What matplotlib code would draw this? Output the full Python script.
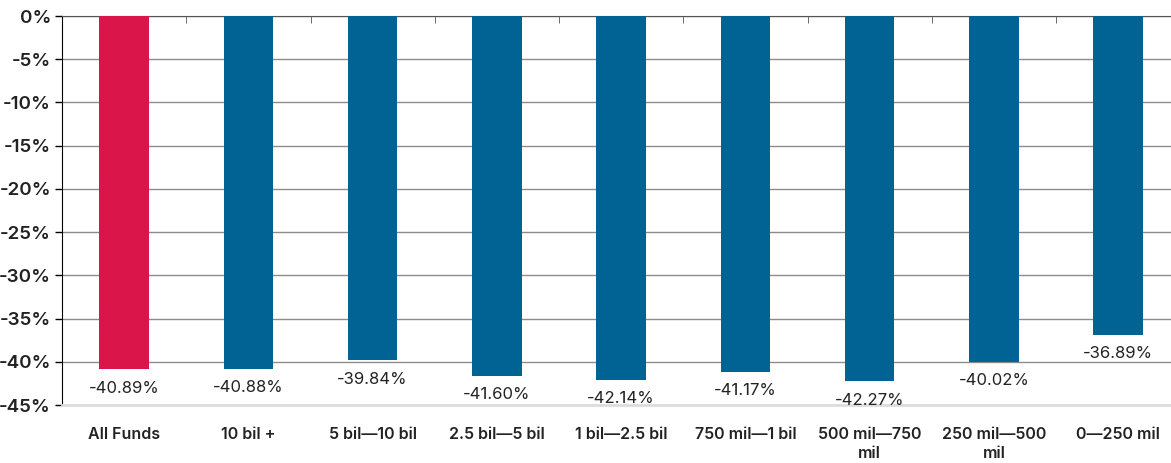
import matplotlib.pyplot as plt
import numpy as np

categories = ['All Funds', '10 bil +', '5 bil\u201410 bil', '2.5 bil\u20145 bil',
              '1 bil\u20142.5 bil', '750 mil\u20141 bil', '500 mil\u2014750\nmil',
              '250 mil\u2014500\nmil', '0\u2014250 mil']
values = [-40.89, -40.88, -39.84, -41.60, -42.14, -41.17, -42.27, -40.02, -36.89]
colors = ['#D9154A'] + ['#006394'] * 8

plt.rcParams['font.family'] = ['Inter', 'DejaVu Sans']

fig = plt.figure(figsize=(11.71, 4.63), dpi=100)
ax = fig.add_axes([62 / 1171, 1 - 405 / 463, 9 * 124.25 / 1171, 389 / 463])

x = np.arange(len(categories))
ax.bar(x, values, width=0.4, color=colors, zorder=3)

for xi, v in zip(x, values):
    ax.annotate(f'{v:.2f}%', (xi, v), xytext=(0, -8), textcoords='offset points',
                ha='center', va='top', fontsize=12, color='#222222')

ax.set_xlim(-0.5, len(categories) - 0.5)
ax.set_ylim(-45, 0)
ax.set_yticks(np.arange(0, -46, -5))
ax.set_yticklabels([f'{t}%' for t in range(0, -46, -5)], fontsize=13.5,
                   fontweight='semibold', color='#222222')
ax.yaxis.grid(True, color='#8c8c8c', linewidth=1, zorder=0)

ax.set_xticks(x)
ax.set_xticklabels(categories, fontsize=11.5, fontweight='semibold', color='#222222',
                   va='top', linespacing=1.3)
ax.tick_params(axis='x', length=0, pad=16)
ax.tick_params(axis='y', length=5, width=1, color='black', pad=3)

# small ticks on the zero line between categories
ax.set_xticks(np.arange(0.5, len(categories) - 0.5, 1), minor=True)
ax.tick_params(axis='x', which='minor', top=True, bottom=False, direction='in',
               length=5, color='#555555')

ax.spines['left'].set_color('black')
ax.spines['right'].set_visible(False)
ax.spines['top'].set_color('#555555')
ax.spines['bottom'].set_color('#dddddd')
ax.spines['bottom'].set_linewidth(2)

fig.savefig('out.png', dpi=100)
